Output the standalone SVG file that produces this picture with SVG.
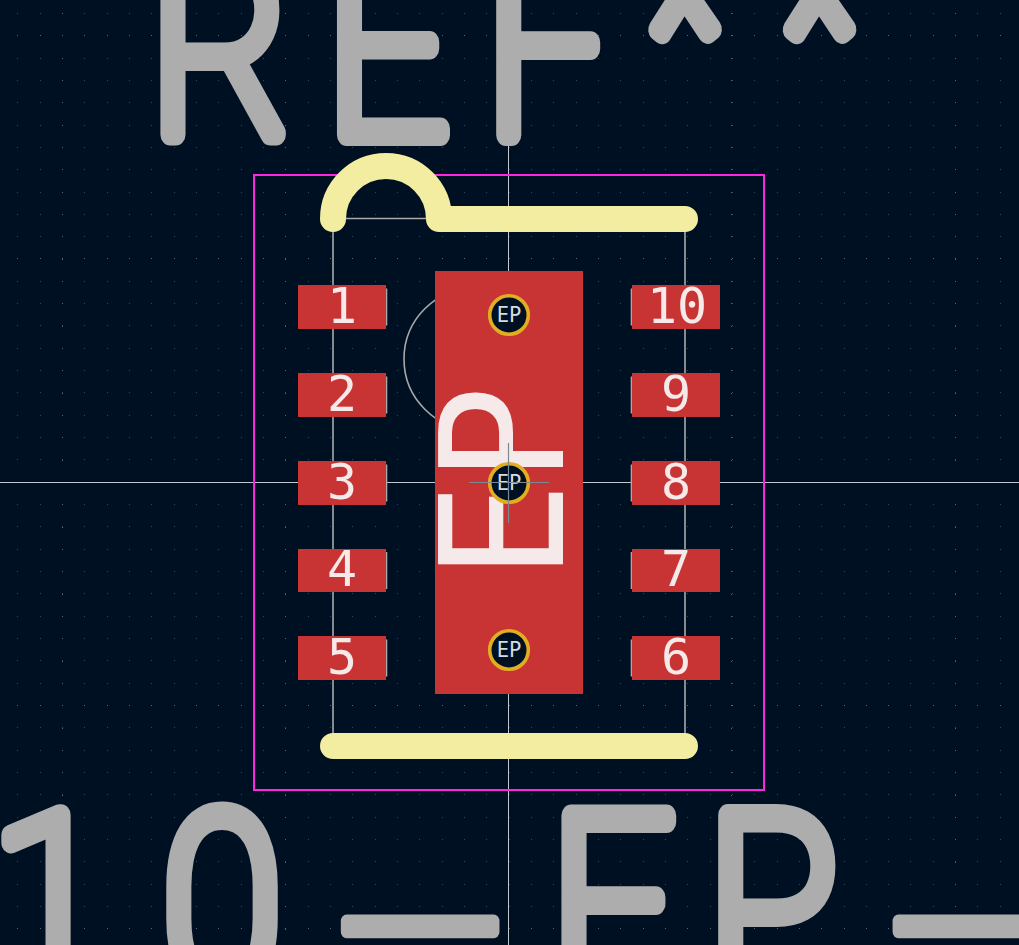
<svg xmlns="http://www.w3.org/2000/svg" width="1019" height="945" viewBox="0 0 1019 945">
<style>
.big{font-family:"Roboto","Liberation Sans",sans-serif;font-weight:100;font-size:246px;fill:#adadad;stroke:#adadad;stroke-width:22px;stroke-linejoin:round;stroke-linecap:round}
.us{font-size:405px;stroke-width:13px}
.ast{font-size:225px}
.pad{fill:#c83434}
.num{font-family:"DejaVu Sans Mono",monospace;font-size:50px;fill:#f6e9e9;text-anchor:middle}
.via{fill:#001023;stroke:#e1ae22;stroke-width:3.6}
.vt{font-family:"DejaVu Sans Mono",monospace;font-size:20.5px;fill:#d5dbe0;text-anchor:middle}
.silk{fill:none;stroke:#f2eda1;stroke-width:26;stroke-linecap:round;stroke-linejoin:round}
.fab{fill:none;stroke:#a9a9a9;stroke-width:1.6}
.grid{fill:none;stroke-width:1;shape-rendering:crispEdges}
</style>
<rect id="background" width="1019" height="945" fill="#001023"/>
<g id="grid">
<path class="grid" stroke="#33465a" stroke-dasharray="1 21.33" d="M-5.03 13.5H1019M-5.03 35.5H1019M-5.03 58.5H1019M-5.03 80.5H1019M-5.03 102.5H1019M-5.03 125.5H1019M-5.03 147.5H1019M-5.03 169.5H1019M-5.03 192.5H1019M-5.03 214.5H1019M-5.03 236.5H1019M-5.03 258.5H1019M-5.03 281.5H1019M-5.03 303.5H1019M-5.03 325.5H1019M-5.03 348.5H1019M-5.03 370.5H1019M-5.03 392.5H1019M-5.03 415.5H1019M-5.03 437.5H1019M-5.03 459.5H1019M-5.03 482.5H1019M-5.03 504.5H1019M-5.03 526.5H1019M-5.03 549.5H1019M-5.03 571.5H1019M-5.03 593.5H1019M-5.03 616.5H1019M-5.03 638.5H1019M-5.03 660.5H1019M-5.03 683.5H1019M-5.03 705.5H1019M-5.03 727.5H1019M-5.03 750.5H1019M-5.03 772.5H1019M-5.03 794.5H1019M-5.03 817.5H1019M-5.03 839.5H1019M-5.03 861.5H1019M-5.03 884.5H1019M-5.03 906.5H1019M-5.03 928.5H1019"/>
<path class="grid" stroke="#5a6a78" stroke-dasharray="1 21.33" d="M-5.03 35.5H1019M-5.03 258.5H1019M-5.03 482.5H1019M-5.03 705.5H1019M-5.03 928.5H1019"/>
<path class="grid" stroke="#5a6a78" stroke-dasharray="1 21.33" d="M62.5 13V945M285.5 13V945M508.5 13V945M731.5 13V945M955.5 13V945"/>
</g>
<g id="crosshair" fill="none" stroke="#c4c8cc" stroke-width="1">
<path d="M0 482.5H1019M508.5 0V945"/>
</g>
<g id="reference-text"><text class="big" transform="scale(.88 1)"><tspan x="170" y="135">R</tspan><tspan x="370" y="135">E</tspan><tspan x="551" y="135">F</tspan><tspan class="ast" x="730" y="106">*</tspan><tspan class="ast" x="883" y="106">*</tspan></text></g>
<g id="value-text"><text class="big" transform="scale(.88 1)"><tspan x="-10" y="990">1</tspan><tspan x="185" y="990">0</tspan><tspan class="us" x="394" y="921">_</tspan><tspan x="625" y="990">F</tspan><tspan x="803" y="990">P</tspan><tspan class="us" x="1021" y="921">_</tspan></text></g>
<g id="fab-outline">
<path class="fab" d="M333 219V746M685 219V746M333 218.5H440"/>
<circle class="fab" cx="475" cy="359" r="71"/>
<path class="fab" d="M386.500 288.500V325.500M386.500 376.500V413.500M386.500 464.500V501.500M386.500 552V589M386.500 639.500V676.500M631.500 288.500V325.500M631.500 376.500V413.500M631.500 464.500V501.500M631.500 552V589M631.500 639.500V676.500"/>
</g>
<g id="courtyard"><rect x="254" y="175" width="510" height="615" fill="none" stroke="#ff26e2" stroke-width="2"/></g>
<g id="silkscreen">
<path class="silk" d="M333 219A53 53 0 0 1 439 219H685M333 746H685"/>
</g>
<g id="pad-1"><rect class="pad" x="298" y="285" width="88" height="44"/><text class="num" x="342" y="323">1</text></g>
<g id="pad-2"><rect class="pad" x="298" y="373" width="88" height="44"/><text class="num" x="342" y="411">2</text></g>
<g id="pad-3"><rect class="pad" x="298" y="461" width="88" height="44"/><text class="num" x="342" y="499">3</text></g>
<g id="pad-4"><rect class="pad" x="298" y="549" width="88" height="43"/><text class="num" x="342" y="586">4</text></g>
<g id="pad-5"><rect class="pad" x="298" y="636" width="88" height="44"/><text class="num" x="342" y="674">5</text></g>
<g id="pad-10"><rect class="pad" x="632" y="285" width="88" height="44"/><text class="num" x="677" y="323">10</text></g>
<g id="pad-9"><rect class="pad" x="632" y="373" width="88" height="44"/><text class="num" x="676" y="411">9</text></g>
<g id="pad-8"><rect class="pad" x="632" y="461" width="88" height="44"/><text class="num" x="676" y="499">8</text></g>
<g id="pad-7"><rect class="pad" x="632" y="549" width="88" height="43"/><text class="num" x="676" y="586">7</text></g>
<g id="pad-6"><rect class="pad" x="632" y="636" width="88" height="44"/><text class="num" x="676" y="674">6</text></g>
<g id="pad-EP">
<rect class="pad" x="435" y="271" width="148" height="423"/>
<text transform="translate(563 482.500) rotate(-90) scale(.945 1)" font-family="DejaVu Sans Mono, monospace" font-size="171" fill="#f6e9e9" text-anchor="middle">EP</text>
<circle class="via" cx="509" cy="315" r="19.300"/><text class="vt" x="509" y="322">EP</text>
<circle class="via" cx="509" cy="483" r="19.300"/><text class="vt" x="509" y="490">EP</text>
<circle class="via" cx="509" cy="650" r="19.300"/><text class="vt" x="509" y="657">EP</text>
</g>
<g id="center-mark"><path d="M469 482.500H549M508.500 443V523" fill="none" stroke="#7a8a92" stroke-width="1.200"/></g>
</svg>
